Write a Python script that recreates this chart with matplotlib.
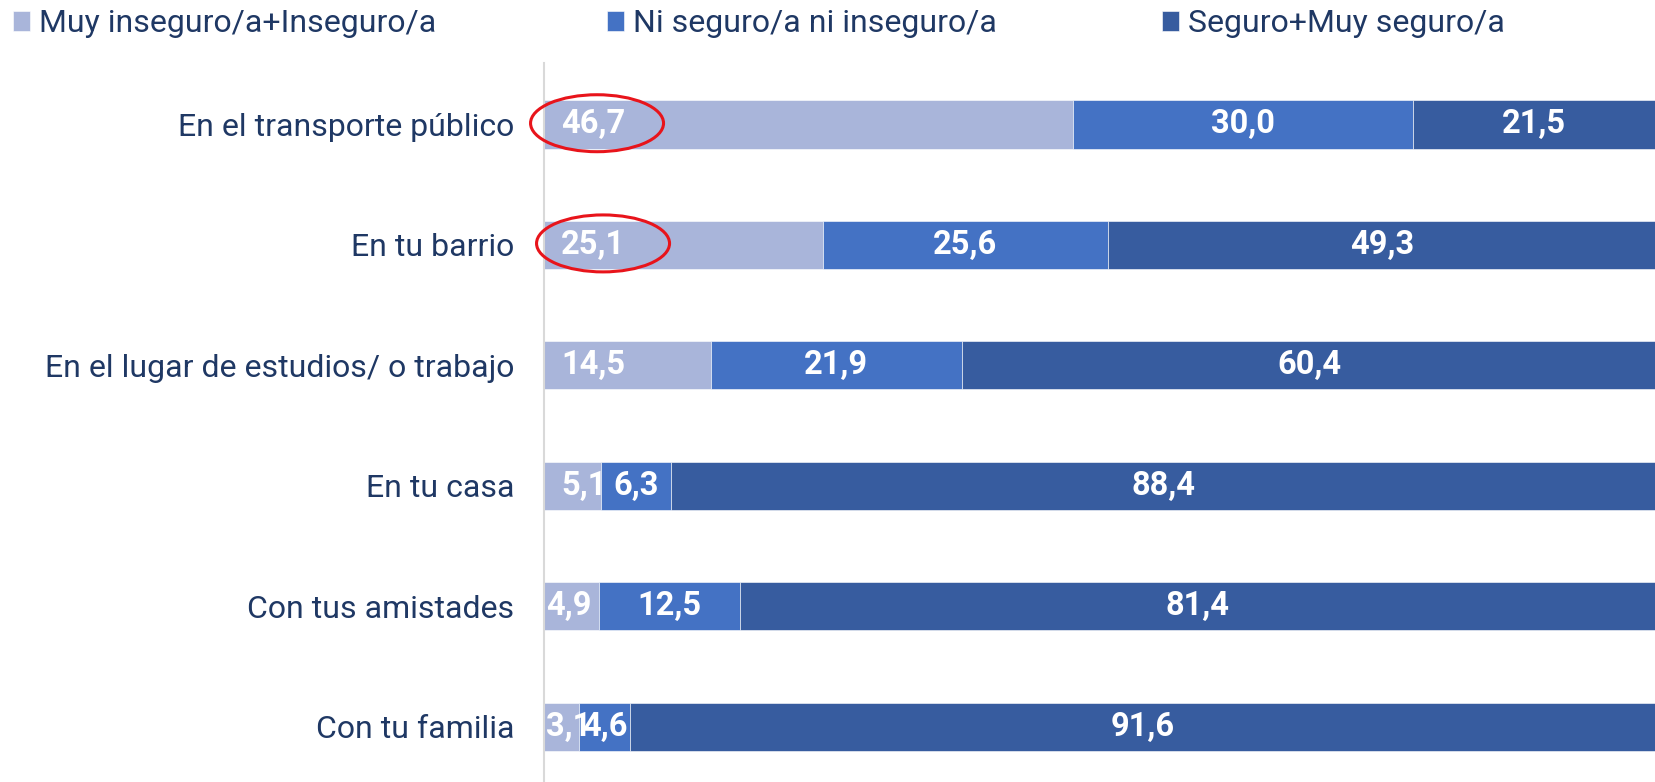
import matplotlib
matplotlib.use("Agg")
import matplotlib.pyplot as plt
from matplotlib.patches import Ellipse

plt.rcParams['font.family'] = ['Roboto', 'DejaVu Sans']

categories = ["En el transporte público", "En tu barrio", "En el lugar de estudios/ o trabajo",
              "En tu casa", "Con tus amistades", "Con tu familia"]
inseguro = [46.7, 25.1, 14.5, 5.1, 4.9, 3.1]
ni = [30.0, 25.6, 21.9, 6.3, 12.5, 4.6]
seguro = [21.5, 49.3, 60.4, 88.4, 81.4, 91.6]
series_names = ["Muy inseguro/a+Inseguro/a", "Ni seguro/a ni inseguro/a", "Seguro+Muy seguro/a"]
colors = ["#A9B5DA", "#4472C4", "#375C9F"]
text_color = "#1F3864"

fig = plt.figure(figsize=(16.56, 7.82), dpi=100)
ax = fig.add_axes([544/1656, 0, 1 - 544/1656, 1 - 63/782])

n = len(categories)
y = list(range(n))
totals = [a + b + c for a, b, c in zip(inseguro, ni, seguro)]
lefts = [0.0] * n
handles = []
for si, (vals, name, c) in enumerate(zip([inseguro, ni, seguro], series_names, colors)):
    pct = [v / t * 100 for v, t in zip(vals, totals)]  # 100% stacked bar
    b = ax.barh(y, pct, left=lefts, height=0.40, color=c, edgecolor="white",
                linewidth=0.4, label=name)
    handles.append(b)
    for yi, (l, p, v) in enumerate(zip(lefts, pct, vals)):
        label = f"{v:.1f}".replace(".", ",")
        if si == 0:
            pad = 1.55 if p >= 5 else 0.2
            ax.text(l + pad, yi, label, ha="left", va="center", color="white",
                    fontsize=23.5, fontweight="bold")
        else:
            ax.text(l + p / 2, yi, label, ha="center", va="center", color="white",
                    fontsize=23.5, fontweight="bold")
    lefts = [l + p for l, p in zip(lefts, pct)]

ax.set_xlim(0, 100)
ax.set_ylim(5.46, -0.51)
ax.set_yticks(y)
ax.set_yticklabels(categories, fontsize=23, color=text_color)
ax.tick_params(axis="y", length=0, pad=21.5)
ax.set_xticks([])
for s in ["top", "right", "bottom"]:
    ax.spines[s].set_visible(False)
ax.spines["left"].set_color("#D9D9D9")
ax.spines["left"].set_linewidth(1.5)

# red ellipses highlighting the first two rows' labels
for cx, cy in [(4.77, 0 - 0.01), (5.31, 1 - 0.012)]:
    ax.add_patch(Ellipse((cx, cy), width=11.96, height=0.473, fill=False,
                         edgecolor="#E8141B", linewidth=2.2, clip_on=False, zorder=5))

# legend entries placed individually along the top
legend_x_px = [13, 607, 1162]
for h, name, xp in zip(handles, series_names, legend_x_px):
    fig.legend(handles=[h], labels=[name], loc="center left",
               bbox_to_anchor=(xp / 1656, 1 - 24 / 782),
               frameon=False, fontsize=23, handlelength=0.53, handleheight=0.56,
               handletextpad=0.28, borderaxespad=0.0, borderpad=0.0,
               labelcolor=text_color)

fig.savefig("out.png", dpi=100)
